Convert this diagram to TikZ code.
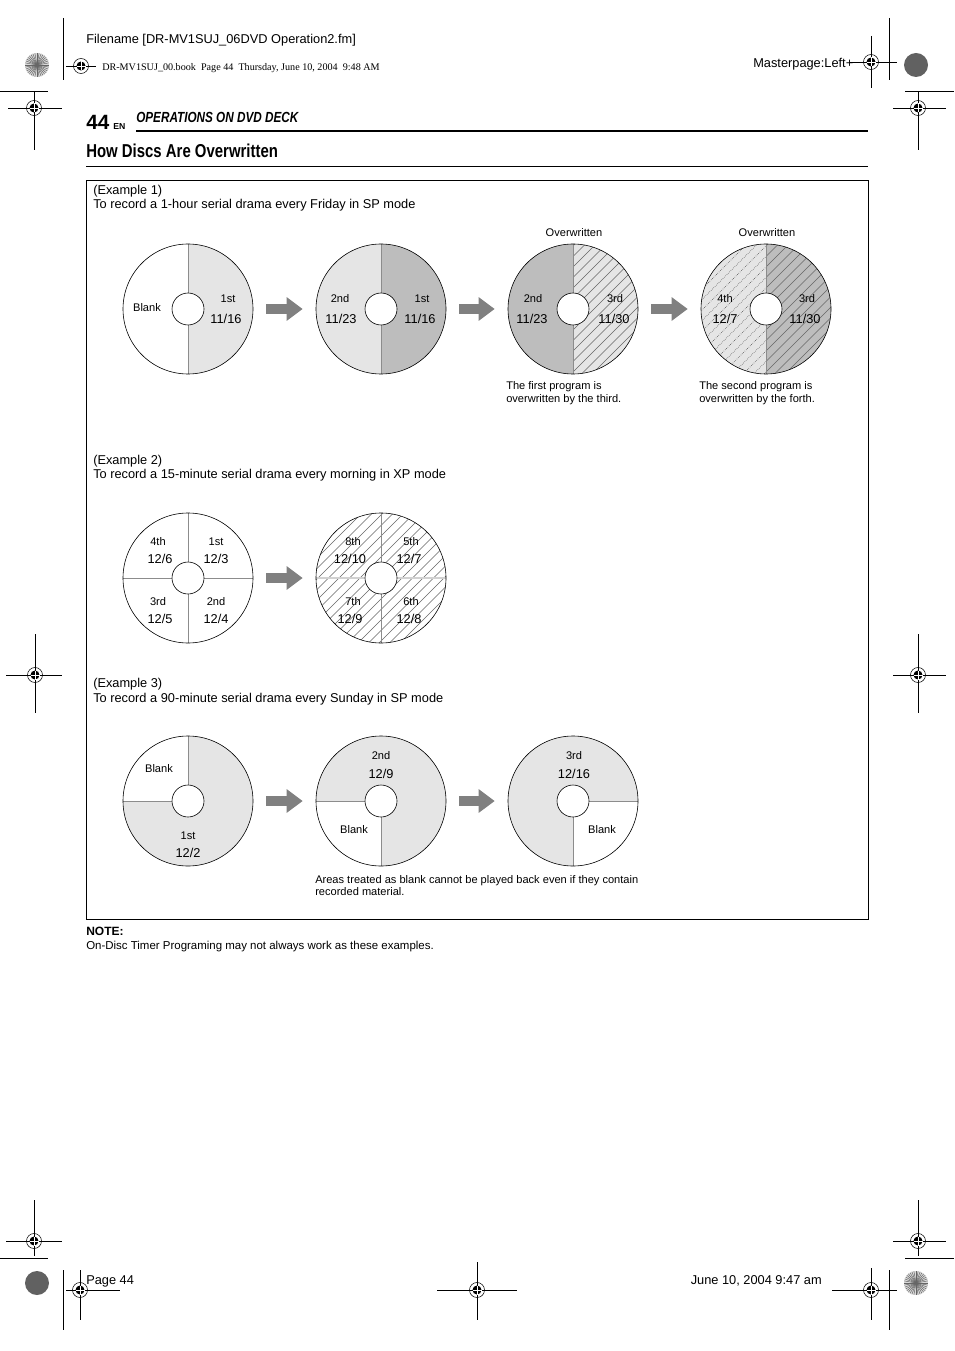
\documentclass[tikz,border=0pt]{standalone}
\usepackage{fontspec}
\setmainfont{Liberation Sans}
\newfontfamily\serifbook{Liberation Serif}
\newfontfamily\condsans[FakeStretch=0.8]{Liberation Sans}
\usepackage{tikz}
\usetikzlibrary{positioning, arrows.meta, backgrounds}
\newcommand{\bodysize}{\fontsize{9.6}{11}\selectfont}
\newcommand{\smallsize}{\fontsize{8.3}{9.75}\selectfont}
\tikzset{
	disc/.style={circle, draw=black, line width=0.45pt,
		minimum size=97.5pt, inner sep=0pt},
	hole/.style={circle, draw=black, fill=white, line width=0.45pt,
		minimum size=24pt, inner sep=0pt},
	lightpart/.style={fill=black!10},
	darkpart/.style={fill=black!26},
	divider/.style={draw=black!45, line width=0.6pt},
	softdivider/.style={draw=black!18, line width=0.9pt},
	hatch/.style={draw=black!60, line width=0.3pt},
	dothatch/.style={draw=black!80, line width=0.4pt, densely dotted},
	bigarrow/.style={draw=black!50, line width=7.5pt,
		-{Triangle[length=12pt, width=17pt]},
		shorten <=9.75pt, shorten >=9.75pt},
	datetxt/.style={font=\bodysize, inner sep=0pt},
	smalltxt/.style={font=\smallsize, inner sep=0pt},
	bodytxt/.style={font=\bodysize, inner sep=0pt, anchor=base west},
	caption/.style={font=\smallsize, inner sep=0pt, anchor=north west, align=left},
	cropline/.style={line width=0.5pt},
	regmark/.pic={
		\draw[line width=0.4pt] (0,0) circle (7.5);
		\fill (0,0) circle (4.5);
		\draw[white, line width=0.5pt] (-4.5,0) -- (4.5,0) (0,-4.5) -- (0,4.5);
	}
}

\begin{document}
\begin{tikzpicture}[x=0.75pt, y=-0.75pt]
	\useasboundingbox (0,0) rectangle (954,1351);

	% printer marks
	\draw[cropline] (63,18) -- (63,80) (889,18) -- (889,80)
		(63,1270) -- (63,1330) (889,1270) -- (889,1330)
		(0,91) -- (48,91) (905,91) -- (954,91)
		(0,1258) -- (48,1258) (905,1258) -- (954,1258);
	\draw[cropline] (66,66) -- (96,66)
		(850,62) -- (897,62) (871,36) -- (871,88)
		(8,108) -- (62,108) (34,92) -- (34,150)
		(893,108) -- (946,108) (918,92) -- (918,150)
		(6,675) -- (62,675) (35,634) -- (35,713)
		(893,675) -- (946,675) (918,634) -- (918,713)
		(6,1241) -- (62,1241) (34,1200) -- (34,1256)
		(893,1241) -- (946,1241) (918,1200) -- (918,1256)
		(66,1290) -- (120,1290) (80,1270) -- (80,1320)
		(437,1290) -- (517,1290) (477,1262) -- (477,1320)
		(832,1290) -- (897,1290) (871,1268) -- (871,1320);
	\foreach \pos in {(81,66),(871,62),(34,108),(918,108),(35,675),(918,675),
		(34,1241),(918,1241),(80,1290),(477,1290),(871,1290)}
		\pic at \pos {regmark};
	\fill[black!15] (37,65) circle (12) (916,1283) circle (12);
	\foreach \a in {0,10,...,350}
		\draw[black!60, line width=0.35pt] (37,65) -- ++(\a:12) (916,1283) -- ++(\a:12);
	\fill[black!62] (916,65) circle (12) (37,1283) circle (12);

	% page header
	\node[bodytxt] (fname) at (86,44) {Filename [DR-MV1SUJ\_06DVD Operation2.fm]};
	\node[bodytxt, font=\serifbook\fontsize{7.6}{9}\selectfont] (bookline) at (102,71)
		{DR-MV1SUJ\_00.book\ \ Page 44\ \ Thursday, June 10, 2004\ \ 9:48 AM};
	\node[bodytxt] (mpage) at (753,68) {Masterpage:Left+};
	\node[bodytxt, font=\bfseries\fontsize{15.5}{17}\selectfont] (pnum) at (86,130) {44};
	\node[bodytxt, font=\bfseries\fontsize{6.5}{8}\selectfont] (lang) at (113,130) {EN};
	\node[bodytxt, font=\condsans\bfseries\itshape\fontsize{11}{13}\selectfont] (chapter)
		at (136,123) {OPERATIONS ON DVD DECK};
	\draw[line width=1.5pt] (136,131) -- (868,131);
	\node[bodytxt, font=\condsans\bfseries\fontsize{14}{16}\selectfont] (title)
		at (86,158) {How Discs Are Overwritten};
	\draw[line width=0.6pt] (86,166) -- (868,166);
	\draw[line width=0.6pt] (86,180) rectangle (868,919);

	% Example 1
	\node[bodytxt] (ex1) at (93,195) {(Example 1)};
	\node[bodytxt] (ex1txt) at (93,209) {To record a 1-hour serial drama every Friday in SP mode};
	\node[disc] (d1a) at (188,309) {};
	\node[disc] (d1b) at (381,309) {};
	\node[disc] (d1c) at (573,309) {};
	\node[disc] (d1d) at (766,309) {};
	\begin{scope}[on background layer]
		\fill[lightpart] (d1a.center) -- ++(-90:65) arc (-90:90:65) -- cycle;
		\fill[lightpart] (d1b.center) -- ++(90:65) arc (90:270:65) -- cycle;
		\fill[darkpart] (d1b.center) -- ++(-90:65) arc (-90:90:65) -- cycle;
		\fill[darkpart] (d1c.center) -- ++(90:65) arc (90:270:65) -- cycle;
		\fill[lightpart] (d1c.center) -- ++(-90:65) arc (-90:90:65) -- cycle;
		\fill[lightpart] (d1d.center) -- ++(90:65) arc (90:270:65) -- cycle;
		\fill[darkpart] (d1d.center) -- ++(-90:65) arc (-90:90:65) -- cycle;
		\begin{scope}
			\clip (d1c.center) -- ++(-90:65) arc (-90:90:65) -- cycle;
			\foreach \k in {-9,...,9}
				\draw[hatch] ([shift={(\k*10.5-70,70)}]d1c.center) -- ++(140,-140);
		\end{scope}
		\begin{scope}
			\clip (d1d.center) -- ++(90:65) arc (90:270:65) -- cycle;
			\foreach \k in {-9,...,9}
				\draw[dothatch] ([shift={(\k*10.5-70,70)}]d1d.center) -- ++(140,-140);
		\end{scope}
		\begin{scope}
			\clip (d1d.center) -- ++(-90:65) arc (-90:90:65) -- cycle;
			\foreach \k in {-9,...,9}
				\draw[hatch] ([shift={(\k*10.5-70,70)}]d1d.center) -- ++(140,-140);
		\end{scope}
		\foreach \d in {d1a,d1b,d1c,d1d}
			\draw[divider] (\d.north) -- (\d.south);
	\end{scope}
	\foreach \d in {d1a,d1b,d1c,d1d}
		\node[hole] (h\d) at (\d) {};
	\draw[bigarrow] (d1a) -- (d1b);
	\draw[bigarrow] (d1b) -- (d1c);
	\draw[bigarrow] (d1c) -- (d1d);

	\node[smalltxt] (blank1) at (147,308) {Blank};
	\node[smalltxt] (n1a) at (228,299) {1st};
	\node[datetxt] (t1a) at (226,319) {11/16};
	\node[smalltxt] (n1b) at (340,299) {2nd};
	\node[datetxt] (t1b) at (341,319) {11/23};
	\node[smalltxt] (n1c) at (422,299) {1st};
	\node[datetxt] (t1c) at (420,319) {11/16};
	\node[smalltxt] (n1d) at (533,299) {2nd};
	\node[datetxt] (t1d) at (532,319) {11/23};
	\node[smalltxt] (n1e) at (615,299) {3rd};
	\node[datetxt] (t1e) at (614,319) {11/30};
	\node[smalltxt] (n1f) at (725,299) {4th};
	\node[datetxt] (t1f) at (725,319) {12/7};
	\node[smalltxt] (n1g) at (807,299) {3rd};
	\node[datetxt] (t1g) at (805,319) {11/30};
	\node[smalltxt] (ow1) at (574,233) {Overwritten};
	\node[smalltxt] (ow2) at (767,233) {Overwritten};
	\node[caption] (cap1) at (506,381) {The first program is\\overwritten by the third.};
	\node[caption] (cap2) at (699,381) {The second program is\\overwritten by the forth.};

	% Example 2
	\node[bodytxt] (ex2) at (93,464) {(Example 2)};
	\node[bodytxt] (ex2txt) at (93,478) {To record a 15-minute serial drama every morning in XP mode};
	\node[disc] (d2a) at (188,578) {};
	\node[disc] (d2b) at (381,578) {};
	\begin{scope}[on background layer]
		\begin{scope}
			\clip (d2b.center) circle (65);
			\foreach \k in {-9,...,9}
				\draw[hatch] ([shift={(\k*10.5-70,70)}]d2b.center) -- ++(140,-140);
		\end{scope}
		\draw[divider] (d2a.north) -- (d2a.south) (d2a.west) -- (d2a.east);
		\draw[divider] (d2b.north) -- (d2b.south);
		\draw[softdivider] (d2b.west) -- (d2b.east);
	\end{scope}
	\node[hole] (hd2a) at (d2a) {};
	\node[hole] (hd2b) at (d2b) {};
	\draw[bigarrow] (d2a) -- (d2b);

	\node[smalltxt] (n2a) at (158,542) {4th};
	\node[datetxt] (t2a) at (160,559) {12/6};
	\node[smalltxt] (n2b) at (216,542) {1st};
	\node[datetxt] (t2b) at (216,559) {12/3};
	\node[smalltxt] (n2c) at (158,602) {3rd};
	\node[datetxt] (t2c) at (160,619) {12/5};
	\node[smalltxt] (n2d) at (216,602) {2nd};
	\node[datetxt] (t2d) at (216,619) {12/4};
	\node[smalltxt] (n2e) at (353,542) {8th};
	\node[datetxt] (t2e) at (350,559) {12/10};
	\node[smalltxt] (n2f) at (411,542) {5th};
	\node[datetxt] (t2f) at (409,559) {12/7};
	\node[smalltxt] (n2g) at (353,602) {7th};
	\node[datetxt] (t2g) at (350,619) {12/9};
	\node[smalltxt] (n2h) at (411,602) {6th};
	\node[datetxt] (t2h) at (409,619) {12/8};

	% Example 3
	\node[bodytxt] (ex3) at (93,687) {(Example 3)};
	\node[bodytxt] (ex3txt) at (93,702) {To record a 90-minute serial drama every Sunday in SP mode};
	\node[disc] (d3a) at (188,801) {};
	\node[disc] (d3b) at (381,801) {};
	\node[disc] (d3c) at (573,801) {};
	\begin{scope}[on background layer]
		\foreach \d in {d3a,d3b,d3c}
			\fill[lightpart] (\d.center) circle (65);
		\fill[white] (d3a.center) -- ++(-90:65) arc (-90:-180:65) -- cycle;
		\fill[white] (d3b.center) -- ++(90:65) arc (90:180:65) -- cycle;
		\fill[white] (d3c.center) -- ++(0:65) arc (0:90:65) -- cycle;
		\draw[divider] (d3a.center) -- (d3a.north) (d3a.center) -- (d3a.west);
		\draw[divider] (d3b.center) -- (d3b.west) (d3b.center) -- (d3b.south);
		\draw[divider] (d3c.center) -- (d3c.east) (d3c.center) -- (d3c.south);
	\end{scope}
	\foreach \d in {d3a,d3b,d3c}
		\node[hole] (h\d) at (\d) {};
	\draw[bigarrow] (d3a) -- (d3b);
	\draw[bigarrow] (d3b) -- (d3c);

	\node[smalltxt] (blank3a) at (159,769) {Blank};
	\node[smalltxt] (n3a) at (188,836) {1st};
	\node[datetxt] (t3a) at (188,853) {12/2};
	\node[smalltxt] (n3b) at (381,756) {2nd};
	\node[datetxt] (t3b) at (381,774) {12/9};
	\node[smalltxt] (blank3b) at (354,830) {Blank};
	\node[smalltxt] (n3c) at (574,756) {3rd};
	\node[datetxt] (t3c) at (574,774) {12/16};
	\node[smalltxt] (blank3c) at (602,830) {Blank};
	\node[caption, font=\fontsize{8.3}{9}\selectfont] (cap3) at (315,875)
		{Areas treated as blank cannot be played back even if they contain\\recorded material.};

	% note and footer
	\node[bodytxt, font=\bfseries\fontsize{9}{10}\selectfont] (notehead) at (86,935) {NOTE:};
	\node[bodytxt, font=\fontsize{8.6}{10}\selectfont] (notetxt) at (86,949)
		{On-Disc Timer Programing may not always work as these examples.};
	\node[bodytxt] (pagefoot) at (86,1284) {Page 44};
	\node[bodytxt, anchor=base east] (datefoot) at (822,1284) {June 10, 2004 9:47 am};
\end{tikzpicture}
\end{document}
